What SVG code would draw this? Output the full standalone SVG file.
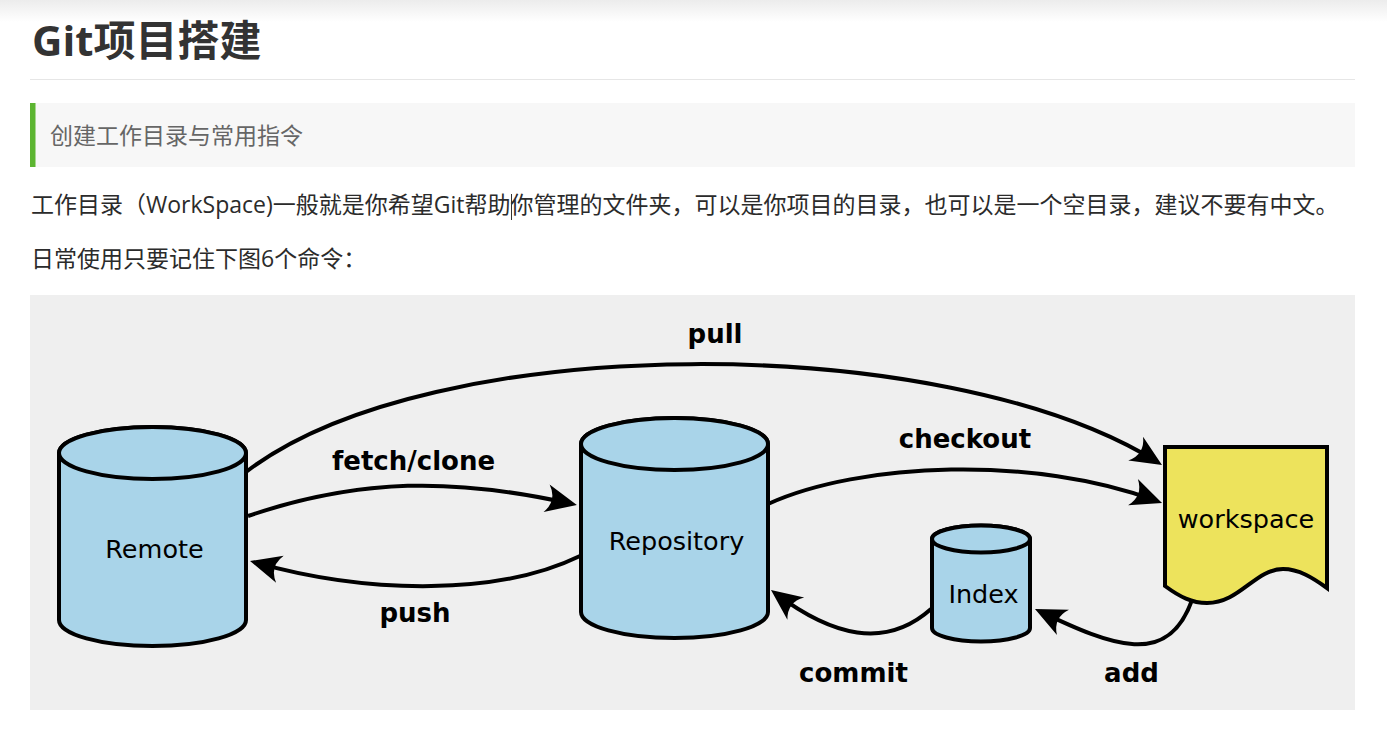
<svg xmlns="http://www.w3.org/2000/svg" width="1387" height="750" viewBox="0 0 1387 750">
  <defs>
    <linearGradient id="topshade" x1="0" y1="0" x2="0" y2="1">
      <stop offset="0" stop-color="#ececec"/>
      <stop offset="1" stop-color="#ffffff"/>
    </linearGradient>
    <marker id="arrow" markerUnits="userSpaceOnUse" viewBox="-34 -16 40 32" markerWidth="40" markerHeight="32" refX="-6" refY="0" orient="auto" overflow="visible">
      <path d="M0,0 L-31,-14 Q-20,0 -31,14 Z" fill="#000"/>
    </marker>
    <style>
      .page { font-family: "Open Sans", "Noto Sans CJK SC", sans-serif; }
      .title { font-size: 42px; font-weight: bold; fill: #333; }
      .quote { font-size: 23px; fill: #666; }
      .para { font-size: 23px; fill: #2b2b2b; }
      .cyl { fill: #a9d4e9; stroke: #000; stroke-width: 4; stroke-linejoin: round; }
      .doc { fill: #ede35c; stroke: #000; stroke-width: 4; stroke-linejoin: miter; }
      .nlabel { font-family: "DejaVu Sans", sans-serif; font-size: 25.5px; fill: #000; text-anchor: middle; }
      .edge { fill: none; stroke: #000; stroke-width: 4; marker-end: url(#arrow); }
      .elabel { font-family: "DejaVu Sans", sans-serif; font-size: 26px; font-weight: bold; fill: #000; text-anchor: middle; }
    </style>
  </defs>

  <rect x="0" y="0" width="1387" height="750" fill="#ffffff"/>
  <rect x="0" y="0" width="1387" height="22" fill="url(#topshade)"/>

  <g id="page-text" class="page">
    <text class="title" x="32" y="56">Git项目搭建</text>
    <line x1="30" y1="79.5" x2="1355" y2="79.5" stroke="#e6e6e6" stroke-width="1"/>
    <rect x="30" y="103" width="1325" height="64" fill="#f7f7f7"/>
    <rect x="30" y="103" width="5.5" height="64" fill="#5cb531"/>
    <text class="quote" x="50" y="144">创建工作目录与常用指令</text>
    <text class="para" x="31" y="213">工作目录（WorkSpace)一般就是你希望Git帮助你管理的文件夹，可以是你项目的目录，也可以是一个空目录，建议不要有中文。</text>
    <line x1="511.5" y1="194" x2="511.5" y2="220" stroke="#333" stroke-width="1"/>
    <text class="para" x="31" y="267">日常使用只要记住下图6个命令：</text>
  </g>

  <rect id="diagram-bg" x="30" y="295" width="1325" height="415" fill="#efefef"/>

  <g id="connectors">
    <path id="edge-pull" class="edge" d="M246,472 C430,330 944.6,329.8 1156.9,461.8"/>
    <path id="edge-fetch" class="edge" d="M248,516 C360,478 454,477.7 571,503.7"/>
    <path id="edge-push" class="edge" d="M580,556 C500,595 371.4,595 255.8,562.6"/>
    <path id="edge-checkout" class="edge" d="M768,504 C860,462 1034.7,455.3 1156.4,500.9"/>
    <path id="edge-commit" class="edge" d="M931,609 C885,650 831.8,635.6 775.8,593.6"/>
    <path id="edge-add" class="edge" d="M1192,600 C1168,668 1112.4,646 1040.4,611.6"/>
    <text class="elabel" x="715" y="343">pull</text>
    <text class="elabel" x="413.5" y="470">fetch/clone</text>
    <text class="elabel" x="415" y="622">push</text>
    <text class="elabel" x="965" y="448">checkout</text>
    <text class="elabel" x="853.5" y="682">commit</text>
    <text class="elabel" x="1131.5" y="682">add</text>
  </g>

  <g id="node-remote">
    <path class="cyl" d="M59,453 A93.5,26 0 0 1 246,453 V620 A93.5,26 0 0 1 59,620 Z"/>
    <ellipse class="cyl" cx="152.5" cy="453" rx="93.5" ry="26"/>
    <text class="nlabel" x="154.5" y="558">Remote</text>
  </g>

  <g id="node-repository">
    <path class="cyl" d="M581,444 A93.5,26 0 0 1 768,444 V612 A93.5,26 0 0 1 581,612 Z"/>
    <ellipse class="cyl" cx="674.5" cy="444" rx="93.5" ry="26"/>
    <text class="nlabel" x="676.5" y="550">Repository</text>
  </g>

  <g id="node-index">
    <path class="cyl" d="M932,539 A49,13.5 0 0 1 1030,539 V628 A49,13.5 0 0 1 932,628 Z"/>
    <ellipse class="cyl" cx="981" cy="539" rx="49" ry="13.5"/>
    <text class="nlabel" x="983.5" y="603">Index</text>
  </g>

  <g id="node-workspace">
    <path class="doc" d="M1165,447 H1327 V588 C1313,578 1299,569 1283,569 C1255,569 1240,603 1207,603 C1192,603 1180,597 1165,586 Z"/>
    <text class="nlabel" x="1246" y="528">workspace</text>
  </g>
</svg>
